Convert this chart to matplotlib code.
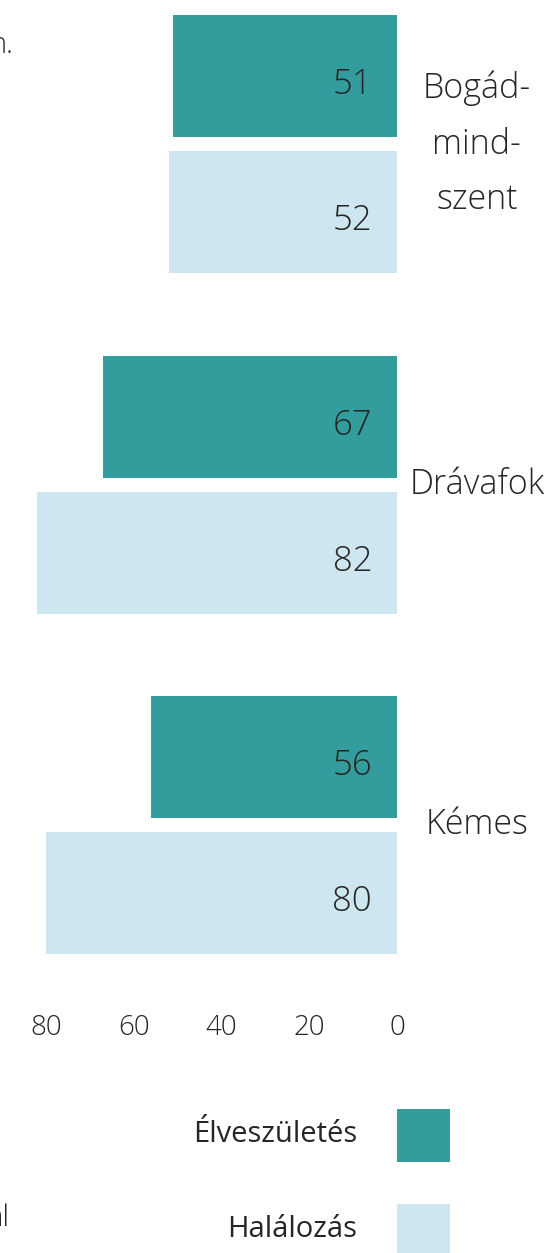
import matplotlib
matplotlib.use("Agg")
import matplotlib.pyplot as plt
from matplotlib.patches import Rectangle

# data
places = ["Bogád-\nmind-\nszent", "Drávafok", "Kémes"]
births = [51, 67, 56]
deaths = [52, 82, 80]
series_names = ["Élveszületés", "Halálozás"]
ticks = [80, 60, 40, 20, 0]

teal = "#339d9d"
light = "#cde6ef"
txt = "#262626"

plt.rcParams["font.family"] = ["Open Sans", "DejaVu Sans"]

W, H = 546, 1253
fig = plt.figure(figsize=(W / 100, H / 100), dpi=100)
# axes covers the plot area; y units are pixels from the top
ax_bottom = 990
ax = fig.add_axes([0, 1 - ax_bottom / H, 1, ax_bottom / H])
px_per_unit = 4.39
zero_x = 397
ax.set_xlim(zero_x / px_per_unit, (zero_x - W) / px_per_unit)
ax.set_ylim(ax_bottom, 0)

pitch = 340.5
bar_h = 122
for i, name in enumerate(places):
    y_b = 76 + pitch * i
    y_d = y_b + 136
    ax.barh(y_b, births[i], height=bar_h, color=teal)
    ax.barh(y_d, deaths[i], height=bar_h, color=light)
    for y, v in ((y_b, births[i]), (y_d, deaths[i])):
        ax.annotate(str(v), xy=(0, y), xytext=(-18, -13), textcoords="offset points",
                    ha="right", va="baseline", fontsize=25, fontweight="light", color=txt)
    ax.text(-18.2, (y_b + y_d) / 2, name, ha="center", va="center", fontsize=24.5,
            fontweight="light", color=txt, linespacing=1.8)

for s in ax.spines.values():
    s.set_visible(False)
ax.set_yticks([])
ax.set_xticks(ticks)
ax.set_xticklabels([str(t) for t in ticks], fontsize=20, fontweight="light", color=txt)
ax.tick_params(axis="x", length=0, pad=17)

# cut-off text from the neighbouring layout
fig.text(13 / W, 1 - 53 / H, "n.", ha="right", va="baseline", fontsize=21,
         fontweight="light", color=txt)
fig.text(10 / W, 1 - 1226 / H, "al", ha="right", va="baseline", fontsize=21,
         fontweight="light", color=txt)

# legend: text on the left, colour square on the right
for k, (label, col) in enumerate(zip(series_names, [teal, light])):
    top = 1109 + 95 * k
    fig.add_artist(Rectangle((397 / W, 1 - (top + 53) / H), 53 / W, 53 / H,
                             transform=fig.transFigure, facecolor=col, edgecolor="none"))
    fig.text(357 / W, 1 - (top + 33) / H, label, ha="right", va="baseline",
             fontsize=21, color=txt)

fig.savefig("out.png", dpi=100)
